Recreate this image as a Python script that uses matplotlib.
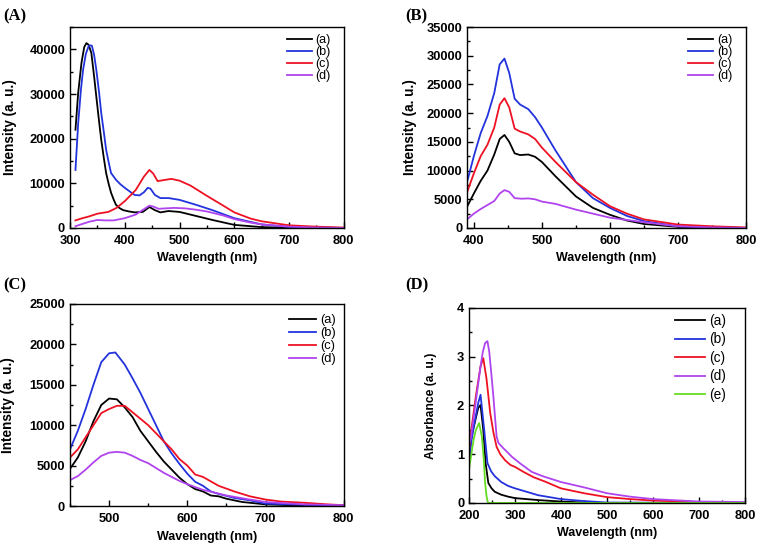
import matplotlib
matplotlib.use("Agg")
import matplotlib.pyplot as plt
from matplotlib.ticker import MultipleLocator, AutoMinorLocator

plt.rcParams['font.family'] = ['Liberation Sans', 'DejaVu Sans']

# ---------------- Panel A ----------------
A_a_x = [310, 315, 321, 326, 330, 334, 339, 344, 348, 353, 357, 362, 366, 371, 375, 380, 384, 390, 397, 408, 418, 433, 445, 455, 465, 480, 500, 530, 560, 600, 650, 700, 800]
A_a_y = [22000, 30300, 37000, 40500, 41400, 41000, 39200, 34000, 29500, 24000, 19800, 15500, 12300, 9700, 7900, 6300, 5200, 4500, 4000, 3700, 3500, 3600, 4700, 4000, 3500, 3800, 3600, 2700, 1800, 700, 200, 50, 0]
A_b_x = [310, 315, 320, 324, 329, 334, 337, 340, 344, 348, 353, 357, 362, 366, 371, 375, 384, 392, 400, 410, 418, 427, 435, 442, 447, 455, 465, 480, 500, 530, 560, 600, 650, 700, 800]
A_b_y = [13000, 23500, 31000, 35500, 39000, 40700, 40900, 40800, 38800, 35500, 30500, 25800, 21300, 17500, 14500, 12300, 10800, 9800, 9000, 8100, 7400, 7300, 8000, 9000, 8800, 7400, 6700, 6700, 6300, 5200, 4000, 2200, 800, 250, 0]
A_c_x = [310, 320, 335, 350, 370, 385, 400, 420, 435, 445, 452, 460, 470, 485, 500, 520, 550, 580, 600, 630, 650, 700, 750, 800]
A_c_y = [1700, 2100, 2600, 3200, 3600, 4500, 6000, 8500, 11500, 13000, 12200, 10500, 10700, 11000, 10600, 9500, 7200, 5000, 3500, 2100, 1500, 600, 300, 100]
A_d_x = [310, 320, 335, 350, 365, 380, 400, 420, 435, 445, 452, 462, 475, 490, 510, 530, 550, 580, 600, 630, 650, 700, 750, 800]
A_d_y = [400, 800, 1400, 1800, 1700, 1700, 2200, 3000, 4200, 5000, 4800, 4300, 4400, 4500, 4400, 4100, 3700, 2800, 2000, 1200, 800, 300, 100, 0]

# ---------------- Panel B ----------------
B_a_x = [390, 400, 410, 420, 430, 438, 445, 452, 460, 468, 480, 490, 500, 520, 550, 575, 600, 625, 650, 700, 750, 800]
B_a_y = [3700, 6000, 8200, 10000, 12800, 15500, 16200, 15000, 13000, 12700, 12800, 12400, 11500, 9000, 5500, 3500, 2300, 1300, 700, 200, 50, 0]
B_b_x = [390, 400, 410, 420, 430, 438, 445, 452, 460, 468, 480, 490, 500, 520, 550, 575, 600, 625, 650, 700, 750, 800]
B_b_y = [8000, 12500, 16500, 19500, 23500, 28500, 29500, 27000, 22500, 21500, 20700, 19300, 17500, 13500, 8000, 5200, 3500, 2100, 1200, 300, 100, 0]
B_c_x = [390, 400, 410, 420, 430, 438, 445, 452, 460, 468, 480, 490, 500, 520, 550, 575, 600, 625, 650, 700, 750, 800]
B_c_y = [6200, 9500, 12500, 14500, 17500, 21500, 22600, 21000, 17300, 16800, 16300, 15500, 14000, 11500, 8000, 5800, 3800, 2500, 1500, 600, 300, 100]
B_d_x = [390, 400, 410, 420, 430, 438, 445, 452, 460, 470, 480, 490, 500, 520, 550, 575, 600, 625, 650, 700, 750, 800]
B_d_y = [1500, 2500, 3300, 4000, 4700, 6000, 6600, 6300, 5200, 5100, 5150, 5000, 4600, 4200, 3200, 2500, 1800, 1400, 1000, 300, 100, 0]

# ---------------- Panel C ----------------
C_a_x = [450, 460, 470, 480, 490, 500, 510, 520, 530, 540, 550, 560, 570, 580, 590, 600, 610, 620, 630, 640, 650, 670, 700, 750, 800]
C_a_y = [4600, 6000, 8000, 10500, 12500, 13300, 13200, 12200, 11000, 9300, 8000, 6700, 5500, 4500, 3500, 2700, 2100, 1800, 1300, 1200, 900, 500, 200, 50, 0]
C_b_x = [450, 460, 470, 480, 490, 500, 508, 520, 530, 540, 550, 560, 570, 580, 590, 600, 610, 620, 630, 640, 660, 680, 700, 750, 800]
C_b_y = [7000, 9300, 12000, 15000, 17800, 18900, 19000, 17500, 15800, 14000, 12000, 10000, 8000, 6500, 5200, 4000, 3000, 2500, 1800, 1500, 1000, 700, 300, 150, 100]
C_c_x = [450, 460, 470, 480, 490, 500, 510, 520, 530, 540, 550, 560, 570, 580, 590, 600, 610, 620, 640, 660, 680, 700, 720, 750, 780, 800]
C_c_y = [6000, 7000, 8500, 10000, 11500, 12000, 12400, 12400, 11600, 10800, 10000, 9000, 8000, 7000, 5800, 5000, 3900, 3600, 2500, 1800, 1200, 800, 550, 400, 200, 100]
C_d_x = [450, 460, 470, 480, 490, 500, 510, 520, 530, 540, 550, 560, 570, 580, 590, 600, 620, 650, 680, 700, 750, 800]
C_d_y = [3200, 3700, 4500, 5400, 6200, 6600, 6700, 6600, 6200, 5700, 5300, 4700, 4100, 3600, 3100, 2700, 2000, 1300, 800, 500, 200, 100]

# ---------------- Panel D ----------------
D_a_x = [200, 205, 210, 215, 220, 225, 231, 236, 242, 249, 256, 270, 285, 300, 350, 400, 450, 500, 800]
D_a_y = [1.1, 1.35, 1.55, 1.75, 1.95, 2.01, 1.5, 0.82, 0.41, 0.3, 0.23, 0.17, 0.13, 0.1, 0.06, 0.03, 0.01, 0.0, 0.0]
D_b_x = [200, 205, 210, 215, 220, 225, 233, 240, 248, 256, 270, 285, 300, 336, 350, 400, 450, 500, 800]
D_b_y = [0.85, 1.25, 1.55, 1.8, 2.05, 2.22, 1.5, 0.82, 0.65, 0.55, 0.43, 0.35, 0.3, 0.2, 0.16, 0.08, 0.04, 0.01, 0.0]
D_c_x = [200, 205, 210, 215, 220, 225, 231, 238, 246, 253, 260, 268, 278, 290, 300, 318, 340, 365, 400, 450, 500, 550, 600, 700, 800]
D_c_y = [1.1, 1.5, 1.85, 2.2, 2.5, 2.8, 2.97, 2.55, 1.85, 1.45, 1.15, 1.0, 0.88, 0.78, 0.74, 0.64, 0.53, 0.44, 0.3, 0.2, 0.12, 0.08, 0.05, 0.02, 0.0]
D_d_x = [200, 204, 210, 215, 220, 225, 230, 235, 240, 244, 248, 253, 257, 260, 264, 275, 293, 310, 336, 360, 400, 450, 500, 550, 600, 700, 800]
D_d_y = [1.2, 1.33, 1.75, 2.1, 2.45, 2.8, 3.1, 3.28, 3.32, 3.1, 2.7, 2.18, 1.7, 1.36, 1.23, 1.12, 0.95, 0.82, 0.64, 0.55, 0.43, 0.32, 0.2, 0.13, 0.08, 0.03, 0.02]
D_e_x = [200, 205, 210, 215, 222, 228, 232, 235, 238, 241, 250, 300, 400, 800]
D_e_y = [0.68, 1.0, 1.3, 1.5, 1.64, 1.36, 0.9, 0.41, 0.15, 0.0, 0.0, 0.0, 0.0, 0.0]

labels4 = ['(a)', '(b)', '(c)', '(d)']
labels5 = ['(a)', '(b)', '(c)', '(d)', '(e)']
colors = ['#000000', '#2233dd', '#ee1122', '#b044ee', '#66dd22']

fig = plt.figure(figsize=(7.64, 5.49), dpi=100)

def setup(ax, xlim, ylim, xmaj, ymaj, ylabel, ylx, ylsize):
    ax.set_xlim(*xlim)
    ax.set_ylim(*ylim)
    ax.xaxis.set_major_locator(MultipleLocator(xmaj))
    ax.yaxis.set_major_locator(MultipleLocator(ymaj))
    ax.xaxis.set_minor_locator(AutoMinorLocator(2))
    ax.yaxis.set_minor_locator(AutoMinorLocator(2))
    ax.tick_params(which='both', direction='in', top=False, right=False, labelsize=9.3, width=1.0)
    ax.tick_params(which='major', length=4)
    ax.tick_params(which='minor', length=2.5)
    ax.tick_params(axis='x', pad=5)
    for lab in ax.get_xticklabels() + ax.get_yticklabels():
        lab.set_fontweight('bold')
    ax.set_xlabel('Wavelength (nm)', fontsize=9, fontweight='bold')
    ax.set_ylabel(ylabel, fontsize=ylsize, fontweight='bold')
    ax.yaxis.set_label_coords(ylx, 0.5)
    for s in ax.spines.values():
        s.set_linewidth(1.0)

def legend(ax, anchor, spacing, hl, fs):
    ax.legend(frameon=False, loc='upper left', bbox_to_anchor=anchor, fontsize=fs,
              handlelength=hl, handletextpad=0.3, labelspacing=spacing,
              borderaxespad=0.0, borderpad=0.0)

axA = fig.add_axes([0.0916, 0.5847, 0.3584, 0.3661])
for xs, ys, c, l in zip([A_a_x, A_b_x, A_c_x, A_d_x], [A_a_y, A_b_y, A_c_y, A_d_y], colors, labels4):
    axA.plot(xs, ys, color=c, lw=1.3, label=l)
setup(axA, (300, 800), (0, 45000), 100, 10000, 'Intensity (a. u.)', -0.193, 9.8)
legend(axA, (0.792, 0.965), 0.0, 2.0, 9.0)

axB = fig.add_axes([0.6113, 0.5847, 0.3652, 0.3661])
for xs, ys, c, l in zip([B_a_x, B_b_x, B_c_x, B_d_x], [B_a_y, B_b_y, B_c_y, B_d_y], colors, labels4):
    axB.plot(xs, ys, color=c, lw=1.3, label=l)
setup(axB, (390, 800), (0, 35000), 100, 5000, 'Intensity (a. u.)', -0.179, 9.8)
legend(axB, (0.792, 0.965), 0.0, 2.0, 9.0)

axC = fig.add_axes([0.0916, 0.0783, 0.3584, 0.3680])
for xs, ys, c, l in zip([C_a_x, C_b_x, C_c_x, C_d_x], [C_a_y, C_b_y, C_c_y, C_d_y], colors, labels4):
    axC.plot(xs, ys, color=c, lw=1.3, label=l)
setup(axC, (450, 800), (0, 25000), 100, 5000, 'Intensity (a. u.)', -0.20, 9.8)
legend(axC, (0.80, 0.95), 0.08, 2.1, 9.3)

axD = fig.add_axes([0.6139, 0.0838, 0.3613, 0.3552])
for xs, ys, c, l in zip([D_a_x, D_b_x, D_c_x, D_d_x, D_e_x], [D_a_y, D_b_y, D_c_y, D_d_y, D_e_y], colors, labels5):
    axD.plot(xs, ys, color=c, lw=1.3, label=l)
setup(axD, (200, 800), (0, 4), 100, 1, 'Absorbance (a. u.)', -0.116, 8.7)
legend(axD, (0.746, 0.97), 0.33, 2.2, 9.8)

for txt, x, y in [('(A)', 0.004, 0.985), ('(B)', 0.53, 0.985), ('(C)', 0.004, 0.494), ('(D)', 0.53, 0.494)]:
    fig.text(x, y, txt, fontsize=12, fontweight='bold', family=['Liberation Serif', 'DejaVu Serif'], va='top', ha='left')

fig.savefig('out.png', dpi=100)
